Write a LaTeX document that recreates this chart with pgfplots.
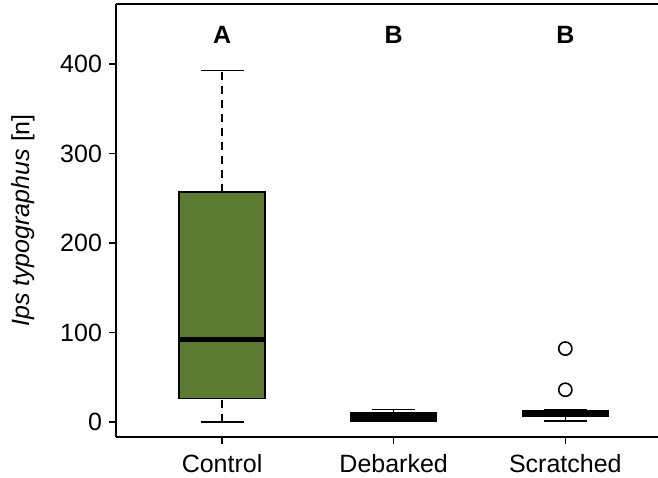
\documentclass[border=0pt]{standalone}
\usepackage{pgfplots}
\pgfplotsset{compat=1.18}
\usepackage{fontspec}
\setmainfont{Liberation Sans}
\definecolor{boxgreen}{RGB}{92,122,50}
\begin{document}
\begin{tikzpicture}
\begin{axis}[
name=ax,
scale only axis,
width=271pt,height=216.5pt,
xmin=0.382,xmax=3.54,ymin=-16.8,ymax=467,
axis lines*=left,
axis line style={line width=0.8pt},
tick align=outside,
major tick length=3.5pt,
tick style={line width=0.8pt,black},
xtick={1,2,3},xticklabels={Control,Debarked,Scratched},
ytick={0,100,200,300,400},
/pgf/number format/assume math mode=true,
tick label style={font=\fontsize{12.5}{15}\selectfont},
label style={font=\fontsize{12.5}{15}\selectfont},
xticklabel shift=1.5pt,
ylabel={\textit{Ips typographus} [n]},
ylabel shift=6pt,
]
% Control: whiskers 0 / 393, box 26-257, median 92
\addplot[black,dash pattern=on 4pt off 3pt,line width=0.7pt] coordinates {(1,257) (1,393)};
\addplot[black,dash pattern=on 4pt off 3pt,line width=0.7pt] coordinates {(1,0) (1,26)};
\addplot[black,line width=0.7pt] coordinates {(0.875,393) (1.125,393)};
\addplot[black,line width=0.7pt] coordinates {(0.875,0) (1.125,0)};
\addplot[draw=black,fill=boxgreen,line width=0.7pt] coordinates {(0.75,26) (1.25,26) (1.25,257) (0.75,257)} -- cycle;
\addplot[black,line width=2.6pt] coordinates {(0.75,92) (1.25,92)};
% Debarked: box 0.5-10, median 4, upper whisker 14
\addplot[black,dash pattern=on 4pt off 3pt,line width=0.7pt] coordinates {(2,10) (2,14)};
\addplot[black,line width=0.7pt] coordinates {(1.875,14) (2.125,14)};
\addplot[draw=black,fill=black,line width=0.7pt] coordinates {(1.75,0.5) (2.25,0.5) (2.25,10) (1.75,10)} -- cycle;
\addplot[black,line width=2.6pt] coordinates {(1.75,4) (2.25,4)};
% Scratched: whiskers 1 / 14, box 6-13, median 10, outliers 82, 36
\addplot[black,dash pattern=on 4pt off 3pt,line width=0.7pt] coordinates {(3,1) (3,6)};
\addplot[black,line width=0.7pt] coordinates {(2.875,1) (3.125,1)};
\addplot[black,line width=0.7pt] coordinates {(2.875,14) (3.125,14)};
\addplot[draw=black,fill=black,line width=0.7pt] coordinates {(2.75,6) (3.25,6) (3.25,13) (2.75,13)} -- cycle;
\addplot[black,line width=2.6pt] coordinates {(2.75,10) (3.25,10)};
\addplot[only marks,mark=o,mark size=3.3pt,mark options={line width=0.8pt,black}] coordinates {(3,82) (3,36)};
\node[font=\bfseries\fontsize{12.5}{15}\selectfont] at (axis cs:1,432) {A};
\node[font=\bfseries\fontsize{12.5}{15}\selectfont] at (axis cs:2,432) {B};
\node[font=\bfseries\fontsize{12.5}{15}\selectfont] at (axis cs:3,432) {B};
\end{axis}
\draw[line width=0.8pt] (ax.north west) -- (ax.north east);
\pgfresetboundingbox
\path ([xshift=-58pt,yshift=2pt]ax.north west) rectangle ([yshift=-20pt]ax.south east);
\end{tikzpicture}
\end{document}
